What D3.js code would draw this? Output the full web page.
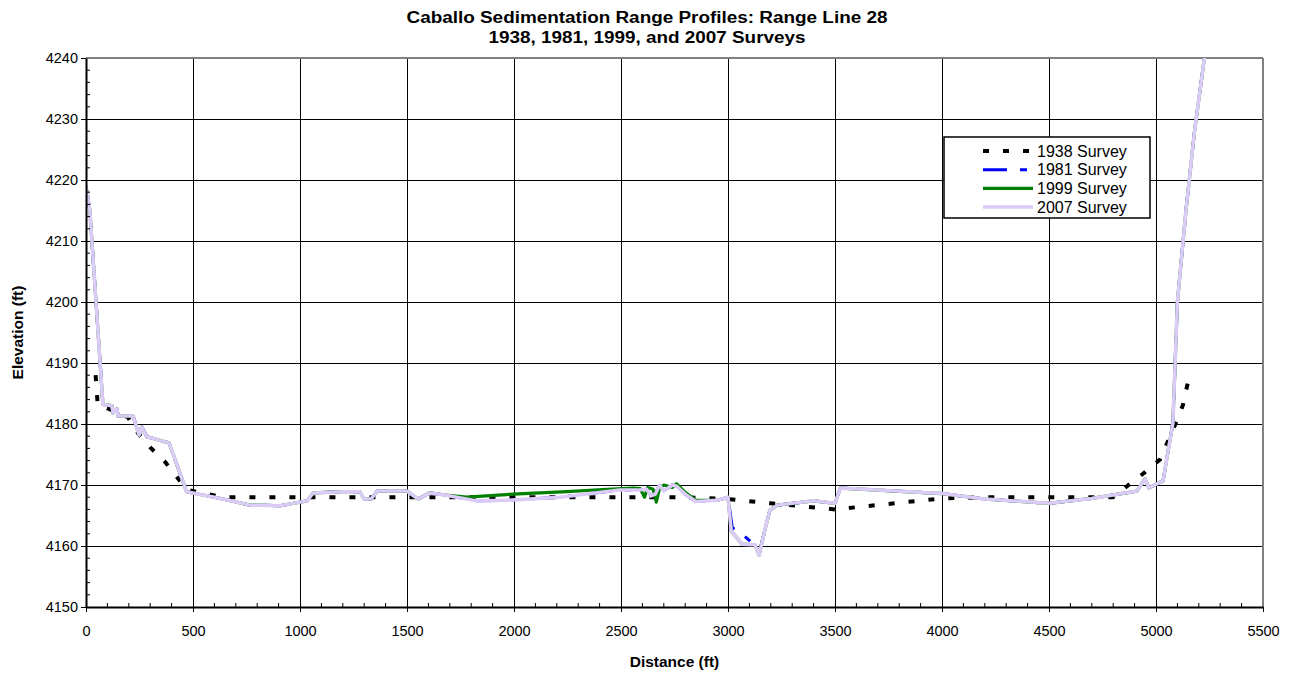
<!DOCTYPE html>
<html>
<head>
<meta charset="utf-8">
<script src="https://cdn.jsdelivr.net/npm/d3@7"></script>
<style>
  body { margin: 0; background: #fff; }
  svg { font-family: "Liberation Sans", Arial, sans-serif; }
</style>
</head>
<body>
<div id="chart"></div>
<script>
// Range Line 28 survey profiles: distance (ft) and elevation (ft) per survey year
const dist1938 = [45, 55, 98, 196, 243, 299, 369, 472, 640, 2800, 3000, 3200, 3500, 4000, 4200, 4800, 4879, 4949, 5019, 5093, 5126, 5150];
const elev1938 = [4188, 4183, 4182.6, 4181.1, 4178.5, 4176.2, 4173.8, 4169.2, 4168, 4168, 4167.7, 4167, 4166, 4167.8, 4168, 4168, 4170.2, 4172.1, 4174.2, 4180.2, 4183.1, 4187];

const dist1981 = [0, 18, 79, 121, 126, 145, 150, 220, 248, 261, 285, 388, 470, 640, 766, 813, 907, 1033, 1061, 1201, 1280, 1299, 1332, 1360, 1500, 1552, 1607, 1668, 1827, 1967, 2215, 2495, 2589, 2620, 2640, 2660, 2680, 2700, 2740, 2760, 2800, 2850, 2950, 3000, 3020, 3050, 3120, 3145, 3175, 3195, 3230, 3400, 3500, 3525, 4000, 4200, 4500, 4700, 4911, 4949, 4967, 5033, 5079, 5100, 5140, 5180, 5230];
const elev1981 = [4219, 4215, 4183.2, 4183, 4181.8, 4182.5, 4181.3, 4181.3, 4178.2, 4179.5, 4177.9, 4176.9, 4168.9, 4167.7, 4166.7, 4166.7, 4166.6, 4167.4, 4168.7, 4168.9, 4168.9, 4167.7, 4167.7, 4169, 4169, 4167.7, 4168.7, 4168.4, 4167.4, 4167.5, 4168, 4169.2, 4169.2, 4169.3, 4168.2, 4168.5, 4170, 4169, 4170, 4169.8, 4168.5, 4167.3, 4167.5, 4168, 4163, 4162.4, 4160.3, 4158.8, 4163, 4165.8, 4166.7, 4167.4, 4167, 4169.5, 4168.6, 4167.7, 4167, 4167.8, 4169, 4171, 4169.5, 4170.7, 4180.2, 4200, 4215, 4228, 4241];

const dist1999 = [0, 18, 79, 121, 126, 145, 150, 220, 248, 261, 285, 388, 470, 640, 766, 813, 907, 1033, 1061, 1201, 1280, 1299, 1332, 1360, 1500, 1552, 1607, 1668, 1780, 1995, 2248, 2435, 2556, 2590, 2610, 2625, 2650, 2665, 2680, 2700, 2740, 2760, 2800, 2850, 2950, 3000, 3015, 3065, 3126, 3145, 3175, 3195, 3230, 3400, 3500, 3525, 4000, 4200, 4500, 4700, 4911, 4949, 4967, 5033, 5079, 5100, 5140, 5180, 5230];
const elev1999 = [4219, 4215, 4183.2, 4183, 4181.8, 4182.5, 4181.3, 4181.3, 4178.2, 4179.5, 4177.9, 4176.9, 4168.9, 4167.7, 4166.7, 4166.7, 4166.6, 4167.4, 4168.7, 4168.9, 4168.9, 4167.7, 4167.7, 4169, 4169, 4167.7, 4168.7, 4168.4, 4168, 4168.5, 4168.9, 4169.3, 4169.5, 4169.4, 4168, 4169.6, 4169.3, 4167.2, 4169.5, 4170, 4169.6, 4170.2, 4168.8, 4167.5, 4167.5, 4168, 4162.5, 4160.3, 4160.2, 4158.5, 4163, 4165.8, 4166.7, 4167.4, 4167, 4169.5, 4168.6, 4167.7, 4167, 4167.8, 4169, 4171, 4169.5, 4170.7, 4180.2, 4200, 4215, 4228, 4241];

const dist2007 = [0, 18, 79, 121, 126, 145, 150, 220, 248, 261, 285, 388, 470, 640, 766, 813, 907, 1033, 1061, 1201, 1280, 1299, 1332, 1360, 1500, 1552, 1607, 1668, 1827, 1967, 2215, 2495, 2589, 2620, 2640, 2660, 2680, 2700, 2740, 2760, 2800, 2850, 2950, 3000, 3015, 3065, 3126, 3145, 3175, 3195, 3230, 3400, 3500, 3525, 4000, 4200, 4500, 4700, 4911, 4949, 4967, 5033, 5079, 5100, 5140, 5180, 5230];
const elev2007 = [4219, 4215, 4183.2, 4183, 4181.8, 4182.5, 4181.3, 4181.3, 4178.2, 4179.5, 4177.9, 4176.9, 4168.9, 4167.7, 4166.7, 4166.7, 4166.6, 4167.4, 4168.7, 4168.9, 4168.9, 4167.7, 4167.7, 4169, 4169, 4167.7, 4168.7, 4168.4, 4167.4, 4167.5, 4168, 4169.2, 4169.2, 4169.3, 4168.2, 4168.5, 4170, 4169, 4170, 4169.8, 4168.5, 4167.3, 4167.5, 4168, 4162.5, 4160.3, 4160.2, 4158.5, 4163, 4165.8, 4166.7, 4167.4, 4167, 4169.5, 4168.6, 4167.7, 4167, 4167.8, 4169, 4171, 4169.5, 4170.7, 4180.2, 4200, 4215, 4228, 4241];

const xTicks = [0, 500, 1000, 1500, 2000, 2500, 3000, 3500, 4000, 4500, 5000, 5500];
const yTicks = [4150, 4160, 4170, 4180, 4190, 4200, 4210, 4220, 4230, 4240];

const surveys = [
  { name: '1938 Survey', d: dist1938, e: elev1938, color: '#000000', width: 4, dash: '6,14' },
  { name: '1981 Survey', d: dist1981, e: elev1981, color: '#0000ff', width: 3, dash: '24,13,7,13' },
  { name: '1999 Survey', d: dist1999, e: elev1999, color: '#008000', width: 3.2, dash: null },
  { name: '2007 Survey', d: dist2007, e: elev2007, color: '#dccaf7', width: 3.5, dash: null },
];

const width = 1295, height = 673;
const margin = { top: 58, right: 32, bottom: 66, left: 86 };
const plotW = width - margin.left - margin.right;
const plotH = height - margin.top - margin.bottom;

const svg = d3.select('#chart').append('svg').attr('width', width).attr('height', height);
const g = svg.append('g').attr('transform', `translate(${margin.left},${margin.top})`);

const x = d3.scaleLinear().domain([0, 5500]).range([0, plotW]);
const y = d3.scaleLinear().domain([4150, 4240]).range([plotH, 0]);

// gridlines
g.append('g')
  .selectAll('line')
  .data(xTicks.slice(1, -1))
  .join('line')
  .attr('x1', d => x(d)).attr('x2', d => x(d))
  .attr('y1', 0).attr('y2', plotH)
  .attr('stroke', '#000').attr('stroke-width', 1).attr('shape-rendering', 'crispEdges');
g.append('g')
  .selectAll('line')
  .data(yTicks.slice(1, -1))
  .join('line')
  .attr('x1', 0).attr('x2', plotW)
  .attr('y1', d => y(d)).attr('y2', d => y(d))
  .attr('stroke', '#000').attr('stroke-width', 1).attr('shape-rendering', 'crispEdges');

// plot border, top and right in grey
g.append('line').attr('x1', 0).attr('x2', plotW).attr('y1', 0).attr('y2', 0)
  .attr('stroke', '#808080').attr('stroke-width', 2);
g.append('line').attr('x1', plotW).attr('x2', plotW).attr('y1', 0).attr('y2', plotH)
  .attr('stroke', '#808080').attr('stroke-width', 2);

g.append('clipPath').attr('id', 'plot-clip')
  .append('rect').attr('x', 0).attr('y', 0).attr('width', plotW).attr('height', plotH);

const line = d3.line().x(d => x(d[0])).y(d => y(d[1]));
const lines = g.append('g').attr('clip-path', 'url(#plot-clip)');
surveys.forEach(s => {
  lines.append('path')
    .datum(s.d.map((v, i) => [v, s.e[i]]))
    .attr('fill', 'none')
    .attr('stroke', s.color)
    .attr('stroke-width', s.width)
    .attr('stroke-dasharray', s.dash)
    .attr('stroke-linejoin', 'round')
    .attr('d', line);
});

// axes: major ticks outside, minor ticks inside
const xMinor = d3.range(0, 5501, 100).filter(v => v % 500 !== 0);
const yMinor = d3.range(4150, 4241, 2).filter(v => v % 10 !== 0);
const fmt = d3.format('d');

const xAxis = g.append('g').attr('transform', `translate(0,${plotH})`)
  .call(d3.axisBottom(x).tickValues(xTicks).tickFormat(fmt).tickSizeInner(5).tickSizeOuter(0).tickPadding(14));
xAxis.append('g').selectAll('line').data(xMinor).join('line')
  .attr('x1', d => x(d)).attr('x2', d => x(d)).attr('y1', 0).attr('y2', -4)
  .attr('stroke', '#000');

const yAxis = g.append('g')
  .call(d3.axisLeft(y).tickValues(yTicks).tickFormat(fmt).tickSizeInner(5).tickSizeOuter(0).tickPadding(3));
yAxis.append('g').selectAll('line').data(yMinor).join('line')
  .attr('y1', d => y(d)).attr('y2', d => y(d)).attr('x1', 0).attr('x2', 4)
  .attr('stroke', '#000');

[xAxis, yAxis].forEach(a => {
  a.select('.domain').attr('stroke', '#000').attr('stroke-width', 2);
  a.selectAll('.tick line').attr('stroke', '#000');
  a.selectAll('text').attr('font-size', 14.5).attr('fill', '#000')
    .attr('font-family', '"Liberation Sans", Arial, sans-serif');
});

// titles
svg.append('text').attr('x', 647).attr('y', 23).attr('text-anchor', 'middle')
  .attr('font-size', 16).attr('font-weight', 'bold')
  .attr('textLength', 481).attr('lengthAdjust', 'spacingAndGlyphs')
  .text('Caballo Sedimentation Range Profiles: Range Line 28');
svg.append('text').attr('x', 647).attr('y', 43).attr('text-anchor', 'middle')
  .attr('font-size', 16).attr('font-weight', 'bold')
  .attr('textLength', 317).attr('lengthAdjust', 'spacingAndGlyphs')
  .text('1938, 1981, 1999, and 2007 Surveys');
svg.append('text').attr('x', margin.left + plotW / 2).attr('y', 667).attr('text-anchor', 'middle')
  .attr('font-size', 15.5).attr('font-weight', 'bold').text('Distance (ft)');
svg.append('text')
  .attr('transform', `translate(23,${margin.top + plotH / 2}) rotate(-90)`)
  .attr('text-anchor', 'middle')
  .attr('font-size', 15.5).attr('font-weight', 'bold').text('Elevation (ft)');

// legend
const legend = svg.append('g').attr('transform', 'translate(944,137)');
legend.append('rect').attr('width', 206).attr('height', 81)
  .attr('fill', '#fff').attr('stroke', '#000').attr('stroke-width', 1.5);
surveys.forEach((s, i) => {
  const row = legend.append('g').attr('transform', `translate(0,${14 + i * 18.7})`);
  row.append('line').attr('x1', 39).attr('x2', 89).attr('y1', 0).attr('y2', 0)
    .attr('stroke', s.color).attr('stroke-width', s.width)
    .attr('stroke-dasharray', s.dash);
  row.append('text').attr('x', 93).attr('y', 5.5).attr('font-size', 16).text(s.name);
});
</script>
</body>
</html>
